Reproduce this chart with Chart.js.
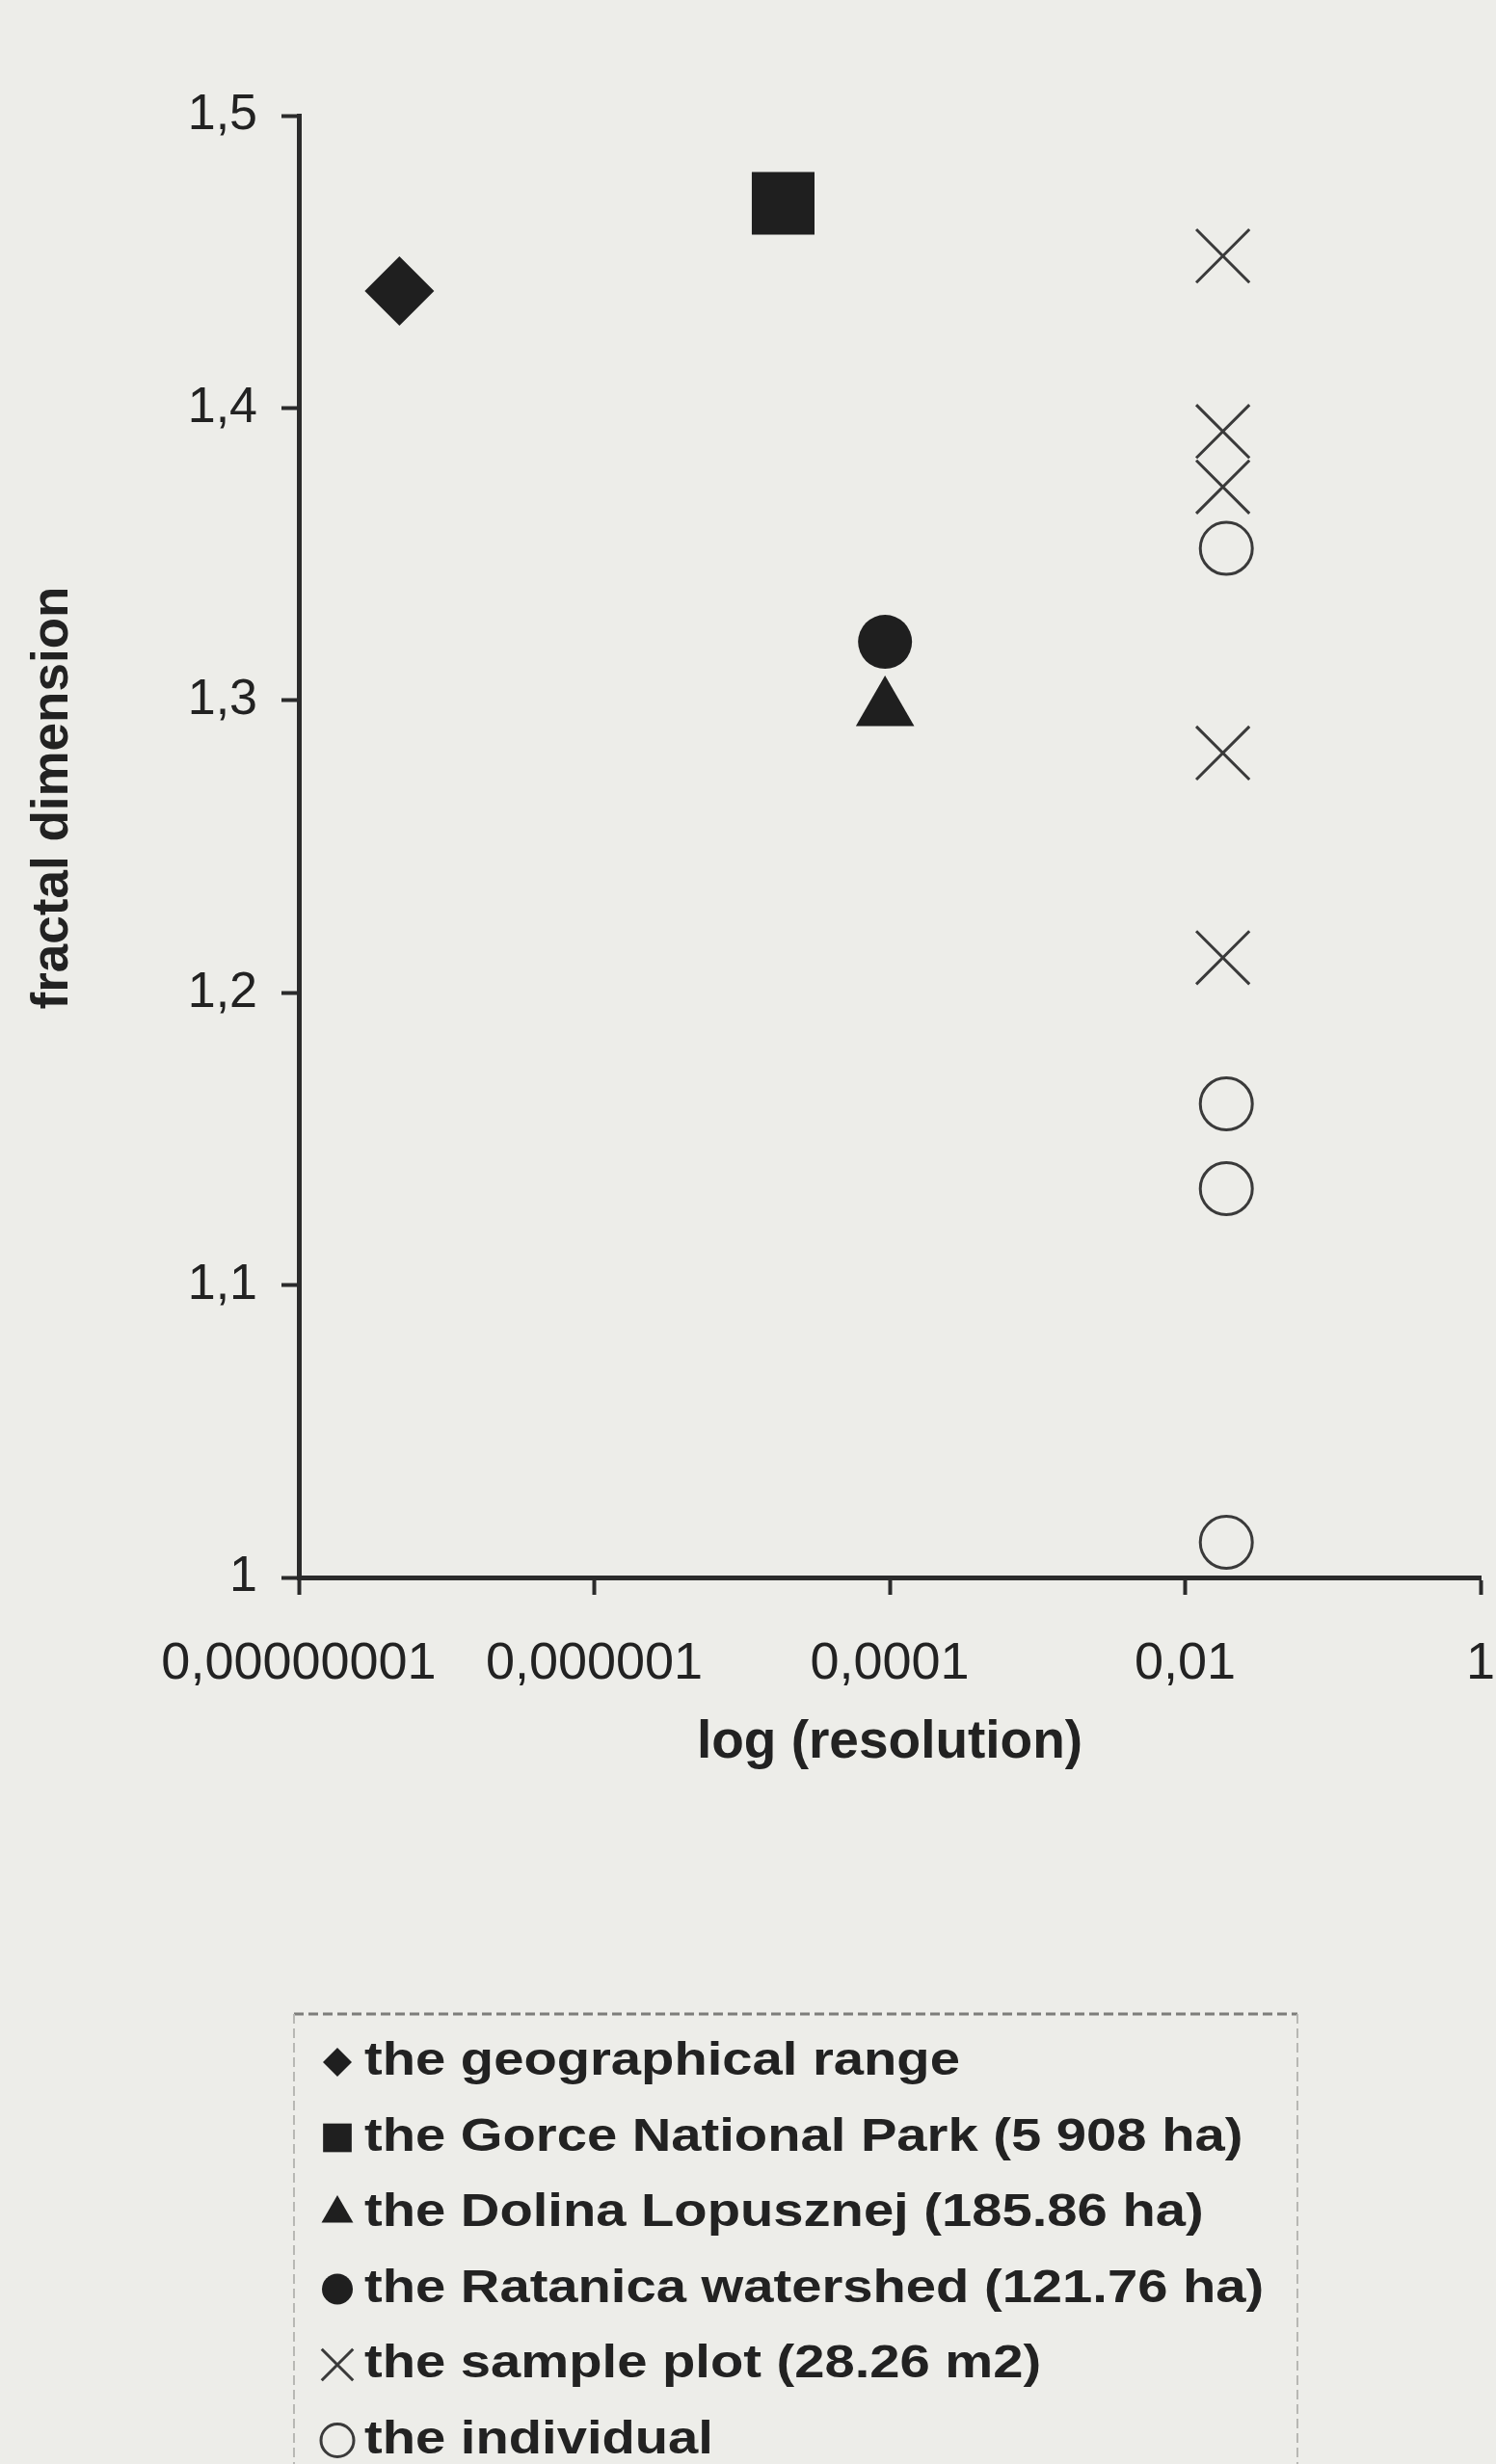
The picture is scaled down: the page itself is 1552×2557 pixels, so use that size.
<!DOCTYPE html>
<html>
<head>
<meta charset="utf-8">
<title>fractal dimension vs log (resolution)</title>
<script src="https://cdn.jsdelivr.net/npm/chart.js@4/dist/chart.umd.min.js"></script>
<style>
  html, body { margin: 0; padding: 0; background: #edede9; overflow: hidden; }
  #wrap { position: relative; width: 1552px; height: 2557px; }
</style>
</head>
<body>
<div id="wrap"><canvas id="scatterChart"></canvas></div>
<script>
// series names, as in the legend
const seriesNames = [
    'the geographical range',
    'the Gorce National Park (5 908 ha)',
    'the Dolina Lopusznej (185.86 ha)',
    'the Ratanica watershed (121.76 ha)',
    'the sample plot (28.26 m2)',
    'the individual'
];

// resolution (x) and fractal dimension (y)
const rangeX = [4.8e-8];
const rangeY = [1.44];
const gorceX = [1.9e-5];
const gorceY = [1.47];
const dolinaX = [9.3e-5];
const dolinaY = [1.297];
const ratanicaX = [9.3e-5];
const ratanicaY = [1.32];
const plotX = [0.018, 0.018, 0.018, 0.018, 0.018];
const plotY = [1.452, 1.392, 1.373, 1.282, 1.212];
const individualX = [0.019, 0.019, 0.019, 0.019];
const individualY = [1.352, 1.162, 1.133, 1.012];

// axis ticks
const xTickValues = [1e-8, 1e-6, 1e-4, 1e-2, 1];
const xTickLabels = ['0,00000001', '0,000001', '0,0001', '0,01', '1'];
const yTickValues = [1, 1.1, 1.2, 1.3, 1.4, 1.5];
const yTickLabels = ['1', '1,1', '1,2', '1,3', '1,4', '1,5'];

const FONT = '"Liberation Sans", Arial, sans-serif';
const ink = '#222222';
const axisColor = '#2b2b2b';
const markFill = '#1f1f1f';
const lineMark = '#3a3a3a';
const paper = '#edede9';

function toPoints(xs, ys) {
    return xs.map((x, i) => ({ x: x, y: ys[i] }));
}

// paper coloured background
const paperBackground = {
    id: 'paperBackground',
    beforeDraw(chart) {
        const ctx = chart.ctx;
        ctx.save();
        ctx.fillStyle = paper;
        ctx.fillRect(0, 0, chart.width, chart.height);
        ctx.restore();
    }
};

// y title sits a bit above the middle of the axis in the original
const yTitle = {
    id: 'yTitle',
    afterDraw(chart, args, opts) {
        const ctx = chart.ctx;
        ctx.save();
        ctx.translate(opts.x, opts.y);
        ctx.rotate(-Math.PI / 2);
        ctx.font = 'bold 53px ' + FONT;
        ctx.fillStyle = ink;
        ctx.textAlign = 'center';
        ctx.textBaseline = 'middle';
        ctx.fillText(opts.text, 0, 0);
        ctx.restore();
    }
};

// one item per row inside a dashed frame, below the plot
const boxLegend = {
    id: 'boxLegend',
    afterDraw(chart, args, opts) {
        const ctx = chart.ctx;
        ctx.save();
        ctx.setLineDash([10, 5]);
        ctx.lineWidth = 3;
        ctx.strokeStyle = '#7d7d7a';
        ctx.beginPath();
        ctx.moveTo(opts.left, opts.top);
        ctx.lineTo(opts.right, opts.top);
        ctx.stroke();
        ctx.lineWidth = 2;
        ctx.strokeStyle = '#b8b8b4';
        ctx.beginPath();
        ctx.moveTo(opts.left, opts.top);
        ctx.lineTo(opts.left, chart.height);
        ctx.moveTo(opts.right, opts.top);
        ctx.lineTo(opts.right, chart.height);
        ctx.stroke();
        ctx.setLineDash([]);

        chart.data.datasets.forEach((ds, i) => {
            const y = opts.firstRow + i * opts.rowHeight;
            ctx.fillStyle = ds.pointBackgroundColor;
            ctx.strokeStyle = ds.pointBorderColor;
            ctx.lineWidth = ds.pointBorderWidth;
            Chart.helpers.drawPoint(ctx, {
                pointStyle: ds.pointStyle,
                radius: ds.legendRadius,
                borderWidth: ds.pointBorderWidth,
                rotation: 0
            }, opts.markerX, y);

            ctx.save();
            ctx.translate(opts.textX, y);
            ctx.scale(opts.stretch, 1);
            ctx.font = 'bold 48px ' + FONT;
            ctx.fillStyle = ink;
            ctx.textBaseline = 'middle';
            ctx.fillText(ds.label, 0, 0);
            ctx.restore();
        });
        ctx.restore();
    }
};

const ctx = document.getElementById('scatterChart').getContext('2d');
const scatterChart = new Chart(ctx, {
    type: 'scatter',
    data: {
        datasets: [{
            label: seriesNames[0],
            data: toPoints(rangeX, rangeY),
            pointStyle: 'rectRot',
            pointRadius: 36,
            pointBackgroundColor: markFill,
            pointBorderColor: markFill,
            pointBorderWidth: 0,
            legendRadius: 15
        }, {
            label: seriesNames[1],
            data: toPoints(gorceX, gorceY),
            pointStyle: 'rect',
            pointRadius: 46,
            pointBackgroundColor: markFill,
            pointBorderColor: markFill,
            pointBorderWidth: 0,
            legendRadius: 21
        }, {
            label: seriesNames[2],
            data: toPoints(dolinaX, dolinaY),
            pointStyle: 'triangle',
            pointRadius: 35,
            pointBackgroundColor: markFill,
            pointBorderColor: markFill,
            pointBorderWidth: 0,
            legendRadius: 19
        }, {
            label: seriesNames[3],
            data: toPoints(ratanicaX, ratanicaY),
            pointStyle: 'circle',
            pointRadius: 28,
            pointBackgroundColor: markFill,
            pointBorderColor: markFill,
            pointBorderWidth: 0,
            legendRadius: 16
        }, {
            label: seriesNames[4],
            data: toPoints(plotX, plotY),
            pointStyle: 'crossRot',
            pointRadius: 39,
            pointBackgroundColor: 'rgba(0,0,0,0)',
            pointBorderColor: lineMark,
            pointBorderWidth: 3,
            legendRadius: 23
        }, {
            label: seriesNames[5],
            data: toPoints(individualX, individualY),
            pointStyle: 'circle',
            pointRadius: 27,
            pointBackgroundColor: 'rgba(0,0,0,0)',
            pointBorderColor: lineMark,
            pointBorderWidth: 3,
            legendRadius: 17
        }]
    },
    options: {
        responsive: true,
        maintainAspectRatio: false,
        animation: false,
        events: [],
        clip: false,
        layout: {
            autoPadding: false,
            padding: { top: 120, right: 16, bottom: 715, left: 0 }
        },
        plugins: {
            legend: { display: false },
            tooltip: { enabled: false },
            yTitle: { text: 'fractal dimension', x: 55, y: 828 },
            boxLegend: {
                left: 305, right: 1346, top: 2090,
                markerX: 350, textX: 378,
                firstRow: 2140, rowHeight: 78.5,
                stretch: 1.17
            }
        },
        scales: {
            x: {
                type: 'logarithmic',
                position: 'bottom',
                min: 1e-8,
                max: 1,
                afterBuildTicks: scale => {
                    scale.ticks = xTickValues.map(v => ({ value: v }));
                },
                afterFit: scale => {
                    scale.height = 205;
                    // the "1" label may hang over the right edge, as in the original
                    scale.paddingLeft = 0;
                    scale.paddingRight = 16;
                },
                ticks: {
                    callback: (value, index) => xTickLabels[index],
                    autoSkip: false,
                    maxRotation: 0,
                    padding: 40,
                    color: ink,
                    font: { family: FONT, size: 54 }
                },
                grid: {
                    drawOnChartArea: false,
                    drawTicks: true,
                    tickLength: 18,
                    tickWidth: 4,
                    tickColor: axisColor
                },
                border: { display: true, color: axisColor, width: 5 },
                title: {
                    display: true,
                    text: 'log (resolution)',
                    color: ink,
                    padding: 0,
                    font: { family: FONT, size: 55, weight: 'bold' }
                }
            },
            y: {
                type: 'linear',
                min: 1,
                max: 1.5,
                afterBuildTicks: scale => {
                    scale.ticks = yTickValues.map(v => ({ value: v }));
                },
                afterFit: scale => { scale.width = 310; },
                ticks: {
                    callback: (value, index) => yTickLabels[index],
                    padding: 25,
                    color: ink,
                    font: { family: FONT, size: 52 }
                },
                grid: {
                    drawOnChartArea: false,
                    drawTicks: true,
                    tickLength: 18,
                    tickWidth: 4,
                    tickColor: axisColor
                },
                border: { display: true, color: axisColor, width: 5 }
            }
        }
    },
    plugins: [paperBackground, yTitle, boxLegend]
});
</script>
</body>
</html>
